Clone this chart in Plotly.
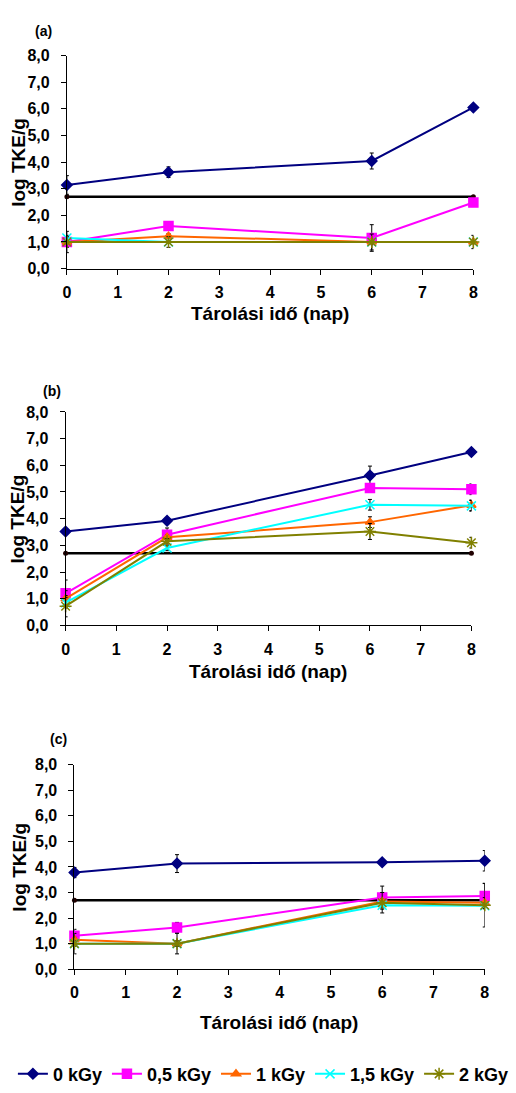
import plotly.graph_objects as go

days = [0, 2, 6, 8]
series_names = ["0 kGy", "0,5 kGy", "1 kGy", "1,5 kGy", "2 kGy"]
limit_value = 2.7

# Panel (a)
a_0 = [3.14, 3.62, 4.04, 6.05]
a_05 = [1.0, 1.6, 1.15, 2.48]
a_1 = [1.0, 1.22, 1.0, 1.0]
a_15 = [1.15, 1.0, 1.0, 1.0]
a_2 = [1.0, 1.0, 1.0, 1.0]
a_err_0 = [0.35, 0.2, 0.3, 0.05]
a_err_05 = [0.1, 0.15, 0.5, 0.15]
a_err_1 = [0.4, 0.1, 0.1, 0.05]
a_err_15 = [0.1, 0.0, 0.0, 0.0]
a_err_2 = [0.2, 0.2, 0.3, 0.25]

# Panel (b)
b_0 = [3.52, 3.92, 5.62, 6.5]
b_05 = [1.2, 3.4, 5.15, 5.1]
b_1 = [1.0, 3.3, 3.87, 4.5]
b_15 = [0.85, 2.9, 4.52, 4.48]
b_2 = [0.72, 3.15, 3.52, 3.1]
b_err_0 = [0.05, 0.05, 0.35, 0.08]
b_err_05 = [0.5, 0.25, 0.1, 0.2]
b_err_1 = [0.3, 0.1, 0.2, 0.2]
b_err_15 = [0.2, 0.1, 0.2, 0.2]
b_err_2 = [0.4, 0.1, 0.3, 0.2]

# Panel (c)
c_0 = [3.78, 4.13, 4.18, 4.24]
c_05 = [1.31, 1.63, 2.8, 2.86]
c_1 = [1.15, 1.0, 2.65, 2.6]
c_15 = [1.0, 1.0, 2.5, 2.48]
c_2 = [1.0, 1.0, 2.6, 2.5]
c_err_0 = [0.2, 0.35, 0.05, 0.4]
c_err_05 = [0.25, 0.2, 0.45, 0.5]
c_err_1 = [0.1, 0.1, 0.1, 0.2]
c_err_15 = [0.1, 0.1, 0.1, 0.1]
c_err_2 = [0.4, 0.4, 0.4, 0.85]

x_ticks = [0, 1, 2, 3, 4, 5, 6, 7, 8]
x_tick_labels = ["0", "1", "2", "3", "4", "5", "6", "7", "8"]
y_ticks = [0, 1, 2, 3, 4, 5, 6, 7, 8]
y_tick_labels = ["0,0", "1,0", "2,0", "3,0", "4,0", "5,0", "6,0", "7,0", "8,0"]
panel_labels = ["(a)", "(b)", "(c)"]
x_title = "Tárolási idő (nap)"
y_title = "log TKE/g"

colors = ["#000080", "#FF00FF", "#FF6600", "#00FFFF", "#808000"]
symbols = ["diamond", "square", "triangle-up", "x-thin-open", "asterisk-open"]
msizes = [8, 9, 8, 9, 10]

W, H = 516, 1093
FONT = "Liberation Sans, Arial, sans-serif"

# pixel geometry for each panel: (x0px, x8px, ytop_px(8), ybot_px(0))
geom = [
    (64.0, 477.7, 48.3, 265.0),
    (62.7, 475.7, 410.7, 627.7),
    (71.7, 489.3, 769.3, 977.3),
]
label_pos = [(40, 23), (49, 389), (55, 743)]
xtitle_pos = [(271, 311), (269, 675), (280, 1031)]
ytitle_x = [14, 14, 16]

panels = [
    ([a_0, a_05, a_1, a_15, a_2], [a_err_0, a_err_05, a_err_1, a_err_15, a_err_2]),
    ([b_0, b_05, b_1, b_15, b_2], [b_err_0, b_err_05, b_err_1, b_err_15, b_err_2]),
    ([c_0, c_05, c_1, c_15, c_2], [c_err_0, c_err_05, c_err_1, c_err_15, c_err_2]),
]

fig = go.Figure()
layout = dict(
    width=W, height=H,
    margin=dict(l=0, r=0, t=0, b=0),
    paper_bgcolor="white", plot_bgcolor="white",
    font=dict(family=FONT, size=13, color="black"),
    showlegend=True,
    legend=dict(orientation="h", x=0.5 + 6 / W, xanchor="center", y=1 - 1084 / H, yanchor="middle",
                font=dict(family=FONT, size=18, color="black", weight="bold"),
                tracegroupgap=0, itemwidth=30),
    annotations=[],
)

for i, (vals, errs) in enumerate(panels):
    xs = "" if i == 0 else str(i + 1)
    x0, x8, yt, yb = geom[i]
    xa = "x" + xs
    ya = "y" + xs
    # limit line
    fig.add_trace(go.Scatter(
        x=[days[0], days[-1]], y=[limit_value, limit_value], mode="lines+markers",
        line=dict(color="black", width=2.5), marker=dict(color="#200000", size=5, symbol="circle"),
        showlegend=False, xaxis=xa, yaxis=ya, cliponaxis=False, hoverinfo="skip"))
    for k in range(5):
        fig.add_trace(go.Scatter(
            x=days, y=vals[k], mode="lines+markers", name=series_names[k],
            line=dict(color=colors[k], width=2),
            marker=dict(color=colors[k], symbol=symbols[k], size=msizes[k],
                        line=dict(color=colors[k], width=1.5)),
            error_y=dict(type="data", array=errs[k], visible=True, color="black",
                         thickness=1, width=2),
            showlegend=(i == 0), legendgroup=series_names[k],
            xaxis=xa, yaxis=ya, cliponaxis=False))
    layout["xaxis" + xs] = dict(
        domain=[x0 / W, x8 / W], range=[0, 8], anchor=ya,
        tickmode="array", tickvals=x_ticks, ticktext=x_tick_labels,
        showline=True, linecolor="black", linewidth=1, ticks="outside", ticklen=5,
        tickcolor="black", showgrid=False, zeroline=False, ticklabelstandoff=4,
        tickfont=dict(family=FONT, size=16, color="black", weight="bold"))
    layout["yaxis" + xs] = dict(
        domain=[1 - yb / H, 1 - yt / H], range=[0, 8], anchor=xa,
        tickmode="array", tickvals=y_ticks, ticktext=y_tick_labels,
        showline=True, linecolor="black", linewidth=1, ticks="outside", ticklen=5,
        tickcolor="black", showgrid=False, zeroline=False, ticklabelstandoff=8,
        tickfont=dict(family=FONT, size=16, color="black", weight="bold"))
    lx, ly = label_pos[i]
    layout["annotations"].append(dict(
        text=panel_labels[i], xref="paper", yref="paper", x=lx / W, y=1 - ly / H,
        xanchor="center", yanchor="middle", showarrow=False,
        font=dict(family=FONT, size=14, color="black", weight="bold")))
    tx, ty = xtitle_pos[i]
    layout["annotations"].append(dict(
        text=x_title, xref="paper", yref="paper", x=tx / W, y=1 - ty / H,
        xanchor="center", yanchor="middle", showarrow=False,
        font=dict(family=FONT, size=19, color="black", weight="bold")))
    layout["annotations"].append(dict(
        text=y_title, xref="paper", yref="paper", x=ytitle_x[i] / W, y=1 - ((yt + yb) / 2) / H,
        xanchor="center", yanchor="middle", showarrow=False, textangle=-90,
        font=dict(family=FONT, size=19, color="black", weight="bold")))

fig.update_layout(**layout)
fig.write_html("out.html")
